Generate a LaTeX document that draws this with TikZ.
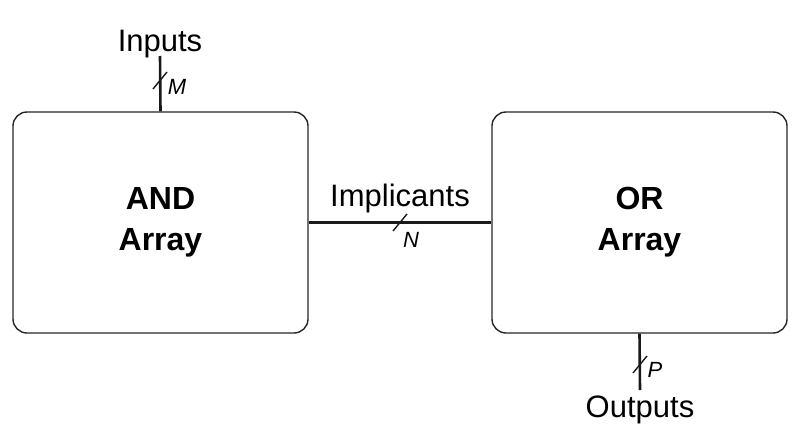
\documentclass[tikz,border=0pt]{standalone}
\usepackage{fontspec}
\setmainfont{Liberation Sans}
\begin{document}
\begin{tikzpicture}[x=1pt,y=-1pt,
  block/.style={draw=black!85,line width=1.4pt,rounded corners=14pt,minimum width=295pt,minimum height=221pt,inner sep=0pt,font=\fontsize{32}{41}\selectfont\bfseries,align=center},
  bus/.style={line width=2.6pt,black!90},
  slashmark/.style={line width=1.4pt,black!90},
  lbl/.style={font=\fontsize{31}{36}\selectfont,inner sep=0pt,anchor=base},
  sub/.style={font=\fontsize{22}{26}\selectfont\itshape,inner sep=0pt}]
\useasboundingbox (0,0) rectangle (800,434);
\node[block] (and) at (160.5,222.5) {AND\\Array};
\node[block] (or) at (639.5,222.5) {OR\\Array};
\coordinate (in) at (160,56);
\coordinate (out) at (640,390);
\draw[bus] (in) -- (and.north);
\draw[bus] (and.east) -- (or.west);
\draw[bus] (or.south) -- (out);
\node[lbl] (inl) at (160,51) {Inputs};
\node[lbl] (impl) at (400,206) {Implicants};
\node[lbl] (outl) at (640,417) {Outputs};
\draw[slashmark] (153,89) -- (167,72);
\draw[slashmark] (393,231) -- (407,214);
\draw[slashmark] (633,373) -- (647,356);
\node[sub] (m) at (177,87) {M};
\node[sub] (n) at (411,240) {N};
\node[sub] (p) at (655,370) {P};
\end{tikzpicture}
\end{document}
